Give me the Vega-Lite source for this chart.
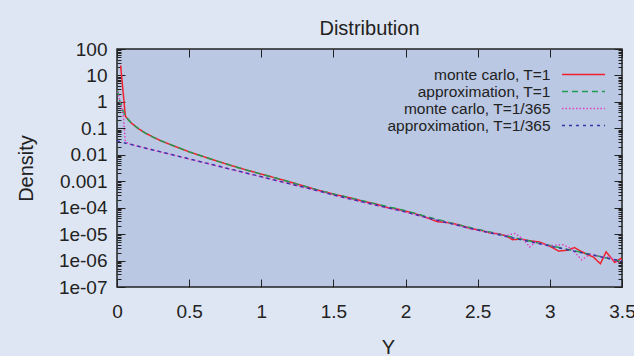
{
  "$schema": "https://vega.github.io/schema/vega-lite/v6.json",
  "autosize": {"type": "none"},
  "width": 505,
  "height": 238,
  "padding": {"left": 117, "top": 49, "right": 12, "bottom": 69},
  "background": "#dfe6f3",
  "title": {"text": "Distribution", "fontSize": 20, "fontWeight": "normal", "color": "#222", "font": "Liberation Sans", "offset": 1, "anchor": "middle"},
  "data": {"values": [
    {"s": "monte carlo, T=1", "x": 0.025, "y": 24.0},
    {"s": "monte carlo, T=1", "x": 0.058, "y": 0.288},
    {"s": "monte carlo, T=1", "x": 0.07, "y": 0.240},
    {"s": "monte carlo, T=1", "x": 0.1, "y": 0.158},
    {"s": "monte carlo, T=1", "x": 0.15, "y": 0.0955},
    {"s": "monte carlo, T=1", "x": 0.2, "y": 0.0646},
    {"s": "monte carlo, T=1", "x": 0.25, "y": 0.0468},
    {"s": "monte carlo, T=1", "x": 0.3, "y": 0.0347},
    {"s": "monte carlo, T=1", "x": 0.4, "y": 0.0209},
    {"s": "monte carlo, T=1", "x": 0.5, "y": 0.0129},
    {"s": "monte carlo, T=1", "x": 0.6, "y": 0.00851},
    {"s": "monte carlo, T=1", "x": 0.7, "y": 0.00562},
    {"s": "monte carlo, T=1", "x": 0.8, "y": 0.00380},
    {"s": "monte carlo, T=1", "x": 0.9, "y": 0.00263},
    {"s": "monte carlo, T=1", "x": 1.0, "y": 0.00186},
    {"s": "monte carlo, T=1", "x": 1.1, "y": 0.00132},
    {"s": "monte carlo, T=1", "x": 1.2, "y": 0.000933},
    {"s": "monte carlo, T=1", "x": 1.3, "y": 0.000646},
    {"s": "monte carlo, T=1", "x": 1.4, "y": 0.000447},
    {"s": "monte carlo, T=1", "x": 1.5, "y": 0.000324},
    {"s": "monte carlo, T=1", "x": 1.6, "y": 0.000245},
    {"s": "monte carlo, T=1", "x": 1.7, "y": 0.000178},
    {"s": "monte carlo, T=1", "x": 1.8, "y": 0.000135},
    {"s": "monte carlo, T=1", "x": 1.87, "y": 0.000102},
    {"s": "monte carlo, T=1", "x": 1.95, "y": 8.71e-5},
    {"s": "monte carlo, T=1", "x": 2.0, "y": 7.41e-5},
    {"s": "monte carlo, T=1", "x": 2.1, "y": 5.25e-5},
    {"s": "monte carlo, T=1", "x": 2.22, "y": 2.95e-5},
    {"s": "monte carlo, T=1", "x": 2.3, "y": 2.69e-5},
    {"s": "monte carlo, T=1", "x": 2.38, "y": 2.19e-5},
    {"s": "monte carlo, T=1", "x": 2.45, "y": 1.62e-5},
    {"s": "monte carlo, T=1", "x": 2.52, "y": 1.41e-5},
    {"s": "monte carlo, T=1", "x": 2.58, "y": 1.12e-5},
    {"s": "monte carlo, T=1", "x": 2.65, "y": 1.02e-5},
    {"s": "monte carlo, T=1", "x": 2.7, "y": 8.32e-6},
    {"s": "monte carlo, T=1", "x": 2.74, "y": 6.17e-6},
    {"s": "monte carlo, T=1", "x": 2.8, "y": 6.46e-6},
    {"s": "monte carlo, T=1", "x": 2.86, "y": 5.62e-6},
    {"s": "monte carlo, T=1", "x": 2.93, "y": 5.01e-6},
    {"s": "monte carlo, T=1", "x": 3.0, "y": 3.47e-6},
    {"s": "monte carlo, T=1", "x": 3.06, "y": 2.29e-6},
    {"s": "monte carlo, T=1", "x": 3.12, "y": 2.45e-6},
    {"s": "monte carlo, T=1", "x": 3.17, "y": 3.09e-6},
    {"s": "monte carlo, T=1", "x": 3.25, "y": 1.78e-6},
    {"s": "monte carlo, T=1", "x": 3.3, "y": 1.38e-6},
    {"s": "monte carlo, T=1", "x": 3.35, "y": 7.59e-7},
    {"s": "monte carlo, T=1", "x": 3.39, "y": 2.14e-6},
    {"s": "monte carlo, T=1", "x": 3.45, "y": 8.51e-7},
    {"s": "monte carlo, T=1", "x": 3.49, "y": 1.20e-6},
    {"s": "monte carlo, T=1", "x": 3.5, "y": 1.10e-6},

    {"s": "approximation, T=1", "x": 0.003, "y": 2.8},
    {"s": "approximation, T=1", "x": 0.02, "y": 1.05},
    {"s": "approximation, T=1", "x": 0.035, "y": 0.562},
    {"s": "approximation, T=1", "x": 0.05, "y": 0.355},
    {"s": "approximation, T=1", "x": 0.07, "y": 0.240},
    {"s": "approximation, T=1", "x": 0.1, "y": 0.158},
    {"s": "approximation, T=1", "x": 0.15, "y": 0.0955},
    {"s": "approximation, T=1", "x": 0.2, "y": 0.0646},
    {"s": "approximation, T=1", "x": 0.25, "y": 0.0468},
    {"s": "approximation, T=1", "x": 0.3, "y": 0.0347},
    {"s": "approximation, T=1", "x": 0.4, "y": 0.0209},
    {"s": "approximation, T=1", "x": 0.5, "y": 0.0129},
    {"s": "approximation, T=1", "x": 0.6, "y": 0.00851},
    {"s": "approximation, T=1", "x": 0.7, "y": 0.00562},
    {"s": "approximation, T=1", "x": 0.8, "y": 0.00380},
    {"s": "approximation, T=1", "x": 0.9, "y": 0.00263},
    {"s": "approximation, T=1", "x": 1.0, "y": 0.00186},
    {"s": "approximation, T=1", "x": 1.1, "y": 0.00132},
    {"s": "approximation, T=1", "x": 1.2, "y": 0.000933},
    {"s": "approximation, T=1", "x": 1.3, "y": 0.000646},
    {"s": "approximation, T=1", "x": 1.4, "y": 0.000447},
    {"s": "approximation, T=1", "x": 1.5, "y": 0.000331},
    {"s": "approximation, T=1", "x": 1.6, "y": 0.000245},
    {"s": "approximation, T=1", "x": 1.7, "y": 0.000182},
    {"s": "approximation, T=1", "x": 1.8, "y": 0.000135},
    {"s": "approximation, T=1", "x": 1.9, "y": 0.000102},
    {"s": "approximation, T=1", "x": 2.0, "y": 7.59e-5},
    {"s": "approximation, T=1", "x": 2.1, "y": 5.37e-5},
    {"s": "approximation, T=1", "x": 2.2, "y": 3.80e-5},
    {"s": "approximation, T=1", "x": 2.3, "y": 2.75e-5},
    {"s": "approximation, T=1", "x": 2.4, "y": 2.04e-5},
    {"s": "approximation, T=1", "x": 2.5, "y": 1.51e-5},
    {"s": "approximation, T=1", "x": 2.6, "y": 1.15e-5},
    {"s": "approximation, T=1", "x": 2.7, "y": 8.51e-6},
    {"s": "approximation, T=1", "x": 2.8, "y": 6.46e-6},
    {"s": "approximation, T=1", "x": 2.9, "y": 4.90e-6},
    {"s": "approximation, T=1", "x": 3.0, "y": 3.72e-6},
    {"s": "approximation, T=1", "x": 3.1, "y": 2.82e-6},
    {"s": "approximation, T=1", "x": 3.2, "y": 2.14e-6},
    {"s": "approximation, T=1", "x": 3.3, "y": 1.62e-6},
    {"s": "approximation, T=1", "x": 3.4, "y": 1.23e-6},
    {"s": "approximation, T=1", "x": 3.5, "y": 9.33e-7},

    {"s": "monte carlo, T=1/365", "x": 0.005, "y": 2.5},
    {"s": "monte carlo, T=1/365", "x": 0.02, "y": 1.05},
    {"s": "monte carlo, T=1/365", "x": 0.035, "y": 0.56},
    {"s": "monte carlo, T=1/365", "x": 0.044, "y": 0.28},
    {"s": "monte carlo, T=1/365", "x": 0.058, "y": 0.031},
    {"s": "monte carlo, T=1/365", "x": 0.1, "y": 0.0240},
    {"s": "monte carlo, T=1/365", "x": 0.2, "y": 0.0176},
    {"s": "monte carlo, T=1/365", "x": 0.3, "y": 0.0129},
    {"s": "monte carlo, T=1/365", "x": 0.4, "y": 0.00945},
    {"s": "monte carlo, T=1/365", "x": 0.5, "y": 0.00692},
    {"s": "monte carlo, T=1/365", "x": 0.6, "y": 0.00508},
    {"s": "monte carlo, T=1/365", "x": 0.7, "y": 0.00372},
    {"s": "monte carlo, T=1/365", "x": 0.8, "y": 0.00272},
    {"s": "monte carlo, T=1/365", "x": 0.9, "y": 0.00200},
    {"s": "monte carlo, T=1/365", "x": 1.0, "y": 0.00146},
    {"s": "monte carlo, T=1/365", "x": 1.1, "y": 0.00107},
    {"s": "monte carlo, T=1/365", "x": 1.2, "y": 0.000785},
    {"s": "monte carlo, T=1/365", "x": 1.3, "y": 0.000575},
    {"s": "monte carlo, T=1/365", "x": 1.4, "y": 0.000422},
    {"s": "monte carlo, T=1/365", "x": 1.5, "y": 0.000298},
    {"s": "monte carlo, T=1/365", "x": 1.6, "y": 0.000221},
    {"s": "monte carlo, T=1/365", "x": 1.7, "y": 0.000164},
    {"s": "monte carlo, T=1/365", "x": 1.8, "y": 0.000122},
    {"s": "monte carlo, T=1/365", "x": 1.9, "y": 9.1e-5},
    {"s": "monte carlo, T=1/365", "x": 2.0, "y": 6.76e-5},
    {"s": "monte carlo, T=1/365", "x": 2.1, "y": 4.90e-5},
    {"s": "monte carlo, T=1/365", "x": 2.2, "y": 3.47e-5},
    {"s": "monte carlo, T=1/365", "x": 2.3, "y": 2.63e-5},
    {"s": "monte carlo, T=1/365", "x": 2.4, "y": 1.86e-5},
    {"s": "monte carlo, T=1/365", "x": 2.5, "y": 1.38e-5},
    {"s": "monte carlo, T=1/365", "x": 2.6, "y": 1.10e-5},
    {"s": "monte carlo, T=1/365", "x": 2.7, "y": 8.91e-6},
    {"s": "monte carlo, T=1/365", "x": 2.76, "y": 1.05e-5},
    {"s": "monte carlo, T=1/365", "x": 2.82, "y": 6.03e-6},
    {"s": "monte carlo, T=1/365", "x": 2.86, "y": 3.24e-6},
    {"s": "monte carlo, T=1/365", "x": 2.9, "y": 5.01e-6},
    {"s": "monte carlo, T=1/365", "x": 3.0, "y": 3.63e-6},
    {"s": "monte carlo, T=1/365", "x": 3.09, "y": 3.98e-6},
    {"s": "monte carlo, T=1/365", "x": 3.15, "y": 2.82e-6},
    {"s": "monte carlo, T=1/365", "x": 3.22, "y": 1.07e-6},
    {"s": "monte carlo, T=1/365", "x": 3.28, "y": 1.74e-6},
    {"s": "monte carlo, T=1/365", "x": 3.35, "y": 1.41e-6},
    {"s": "monte carlo, T=1/365", "x": 3.42, "y": 1.32e-6},
    {"s": "monte carlo, T=1/365", "x": 3.47, "y": 8.32e-7},
    {"s": "monte carlo, T=1/365", "x": 3.5, "y": 1.0e-6},

    {"s": "approximation, T=1/365", "x": 0.0, "y": 0.0331},
    {"s": "approximation, T=1/365", "x": 0.1, "y": 0.0243},
    {"s": "approximation, T=1/365", "x": 0.2, "y": 0.0178},
    {"s": "approximation, T=1/365", "x": 0.3, "y": 0.0130},
    {"s": "approximation, T=1/365", "x": 0.4, "y": 0.00955},
    {"s": "approximation, T=1/365", "x": 0.5, "y": 0.00700},
    {"s": "approximation, T=1/365", "x": 0.6, "y": 0.00513},
    {"s": "approximation, T=1/365", "x": 0.7, "y": 0.00376},
    {"s": "approximation, T=1/365", "x": 0.8, "y": 0.00275},
    {"s": "approximation, T=1/365", "x": 0.9, "y": 0.00202},
    {"s": "approximation, T=1/365", "x": 1.0, "y": 0.00148},
    {"s": "approximation, T=1/365", "x": 1.1, "y": 0.00108},
    {"s": "approximation, T=1/365", "x": 1.2, "y": 0.000794},
    {"s": "approximation, T=1/365", "x": 1.3, "y": 0.000582},
    {"s": "approximation, T=1/365", "x": 1.4, "y": 0.000427},
    {"s": "approximation, T=1/365", "x": 1.5, "y": 0.000302},
    {"s": "approximation, T=1/365", "x": 1.6, "y": 0.000224},
    {"s": "approximation, T=1/365", "x": 1.7, "y": 0.000166},
    {"s": "approximation, T=1/365", "x": 1.8, "y": 0.000123},
    {"s": "approximation, T=1/365", "x": 1.9, "y": 9.33e-5},
    {"s": "approximation, T=1/365", "x": 2.0, "y": 6.92e-5},
    {"s": "approximation, T=1/365", "x": 2.2, "y": 3.55e-5},
    {"s": "approximation, T=1/365", "x": 2.4, "y": 1.91e-5},
    {"s": "approximation, T=1/365", "x": 2.6, "y": 1.07e-5},
    {"s": "approximation, T=1/365", "x": 2.8, "y": 6.17e-6},
    {"s": "approximation, T=1/365", "x": 3.0, "y": 3.55e-6},
    {"s": "approximation, T=1/365", "x": 3.2, "y": 2.09e-6},
    {"s": "approximation, T=1/365", "x": 3.4, "y": 1.23e-6},
    {"s": "approximation, T=1/365", "x": 3.5, "y": 9.55e-7}
  ]},
  "layer": [
    {
      "mark": {"type": "line", "clip": true, "strokeWidth": 1.5},
      "encoding": {
        "x": {"field": "x", "type": "quantitative", "scale": {"domain": [0, 3.5], "nice": false, "zero": false},
          "axis": {"orient": "bottom", "values": [0, 0.5, 1, 1.5, 2, 2.5, 3, 3.5], "format": "~g", "tickSize": -8, "domain": false, "grid": false,
            "labelFontSize": 19, "labelPadding": 23, "labelColor": "#222", "labelFont": "Liberation Sans", "tickColor": "#222",
            "labelFlush": false, "labelOverlap": false, "labelBound": false,
            "title": "Y", "titleFontSize": 20, "titleFontWeight": "normal", "titleColor": "#222", "titleFont": "Liberation Sans",
            "titleX": 271, "titleY": 66, "titleBaseline": "alphabetic", "titleAlign": "center"}},
        "y": {"field": "y", "type": "quantitative", "scale": {"type": "log", "domain": [1e-7, 100], "nice": false},
          "axis": {"orient": "left", "values": [1e-7,2e-7,3e-7,4e-7,5e-7,6e-7,7e-7,8e-7,9e-7,1e-6,2e-6,3e-6,4e-6,5e-6,6e-6,7e-6,8e-6,9e-6,1e-5,2e-5,3e-5,4e-5,5e-5,6e-5,7e-5,8e-5,9e-5,1e-4,2e-4,3e-4,4e-4,5e-4,6e-4,7e-4,8e-4,9e-4,0.001,0.002,0.003,0.004,0.005,0.006,0.007,0.008,0.009,0.01,0.02,0.03,0.04,0.05,0.06,0.07,0.08,0.09,0.1,0.2,0.3,0.4,0.5,0.6,0.7,0.8,0.9,1,2,3,4,5,6,7,8,9,10,20,30,40,50,60,70,80,90,100],
            "labelExpr": "abs(log(datum.value)/LN10 - round(log(datum.value)/LN10)) < 0.01 ? (datum.value >= 0.001 ? format(datum.value, '') : '1e-0' + toString(-round(log(datum.value)/LN10))) : ''",
            "tickSize": {"condition": {"test": "abs(log(datum.value)/LN10 - round(log(datum.value)/LN10)) < 0.01", "value": -8}, "value": -4},
            "domain": false, "grid": false, "labelFontSize": 19, "labelPadding": 18, "labelColor": "#222", "labelFont": "Liberation Sans", "tickColor": "#222",
            "labelOverlap": false, "labelBound": false, "labelFlush": false,
            "title": "Density", "titleFontSize": 20, "titleFontWeight": "normal", "titleColor": "#222", "titleFont": "Liberation Sans",
            "titleX": -85, "titleY": 119, "titleAngle": 270, "titleBaseline": "alphabetic", "titleAlign": "center"}},
        "color": {"field": "s", "type": "nominal",
          "scale": {"domain": ["monte carlo, T=1", "approximation, T=1", "monte carlo, T=1/365", "approximation, T=1/365"], "range": ["#f0222e", "#1f9c50", "#e040c0", "#3535a5"]},
          "legend": {"orient": "none", "legendX": 458, "legendY": 17, "title": null, "symbolType": "M-2.87,0H2.87", "symbolSize": 225, "symbolStrokeWidth": 1.5, "symbolFillColor": "transparent",
            "labelAlign": "right", "labelOffset": -41.5, "labelFont": "Liberation Sans", "labelFontSize": 15.5, "labelColor": "#222", "rowPadding": 0, "labelLimit": 400, "padding": 0}},
        "strokeDash": {"field": "s", "type": "nominal",
          "scale": {"domain": ["monte carlo, T=1", "approximation, T=1", "monte carlo, T=1/365", "approximation, T=1/365"], "range": [[1, 0], [6, 4], [1.5, 2], [3, 4]]}}
      }
    },
    {
      "mark": {"type": "line", "opacity": 0, "clip": true},
      "encoding": {
        "x": {"field": "x", "type": "quantitative", "scale": {"domain": [0, 3.5], "nice": false, "zero": false},
          "axis": {"orient": "top", "values": [0, 0.5, 1, 1.5, 2, 2.5, 3, 3.5], "tickSize": -8, "domain": false, "grid": false, "labels": false, "title": null, "tickColor": "#222"}},
        "y": {"field": "y", "type": "quantitative", "scale": {"type": "log", "domain": [1e-7, 100], "nice": false},
          "axis": {"orient": "right", "values": [1e-7,2e-7,3e-7,4e-7,5e-7,6e-7,7e-7,8e-7,9e-7,1e-6,2e-6,3e-6,4e-6,5e-6,6e-6,7e-6,8e-6,9e-6,1e-5,2e-5,3e-5,4e-5,5e-5,6e-5,7e-5,8e-5,9e-5,1e-4,2e-4,3e-4,4e-4,5e-4,6e-4,7e-4,8e-4,9e-4,0.001,0.002,0.003,0.004,0.005,0.006,0.007,0.008,0.009,0.01,0.02,0.03,0.04,0.05,0.06,0.07,0.08,0.09,0.1,0.2,0.3,0.4,0.5,0.6,0.7,0.8,0.9,1,2,3,4,5,6,7,8,9,10,20,30,40,50,60,70,80,90,100],
            "tickSize": {"condition": {"test": "abs(log(datum.value)/LN10 - round(log(datum.value)/LN10)) < 0.01", "value": -8}, "value": -4},
            "domain": false, "grid": false, "labels": false, "title": null, "tickColor": "#222"}}
      }
    }
  ],
  "resolve": {"axis": {"x": "independent", "y": "independent"}},
  "config": {
    "view": {"fill": "#bac8e4", "stroke": "#222", "strokeWidth": 1.5},
    "font": "Liberation Sans"
  }
}
